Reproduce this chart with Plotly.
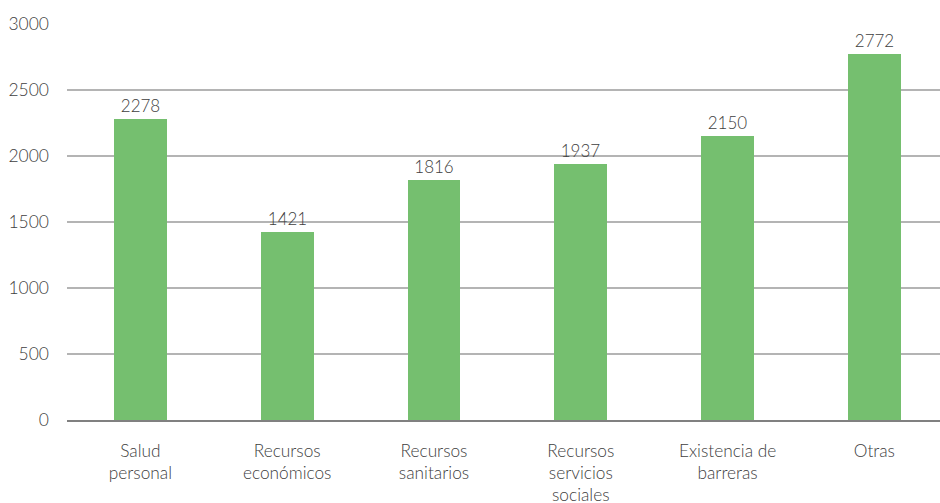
import plotly.graph_objects as go

categories = ["Salud<br>personal", "Recursos<br>económicos", "Recursos<br>sanitarios",
              "Recursos<br>servicios<br>sociales", "Existencia de<br>barreras", "Otras"]
values = [2278, 1421, 1816, 1937, 2150, 2772]

font_family = "Lato"
text_color = "#404040"

fig = go.Figure(go.Bar(
    x=list(range(len(categories))),
    y=values,
    marker=dict(color="#75bf6f", line=dict(width=0)),
    width=0.36,
    text=[str(v) for v in values],
    textposition="outside",
    outsidetextfont=dict(family=font_family, size=17, color=text_color, weight=300),
    cliponaxis=False,
))

fig.update_layout(
    width=940, height=503,
    margin=dict(l=67, r=0, t=24, b=83),
    plot_bgcolor="white", paper_bgcolor="white",
    showlegend=False,
    font=dict(family=font_family, size=16, color=text_color, weight=300),
    bargap=0,
)
fig.update_xaxes(
    tickmode="array", tickvals=list(range(len(categories))), ticktext=categories,
    range=[-0.5, 5.447], automargin=False,
    showgrid=False, showline=True, linecolor="#808080", linewidth=1.5,
    ticks="", ticklabelstandoff=14,
    tickfont=dict(family=font_family, size=17.3, color=text_color, weight=300),
)
fig.update_yaxes(
    range=[0, 3000], tickvals=[0, 500, 1000, 1500, 2000, 2500, 3000],
    automargin=False,
    showgrid=True, gridcolor="#b4b4b4", gridwidth=1.5,
    zeroline=False, showline=False, ticks="", ticklabelstandoff=17,
    tickfont=dict(family=font_family, size=17.5, color=text_color, weight=300),
)

fig.write_html("out.html")
